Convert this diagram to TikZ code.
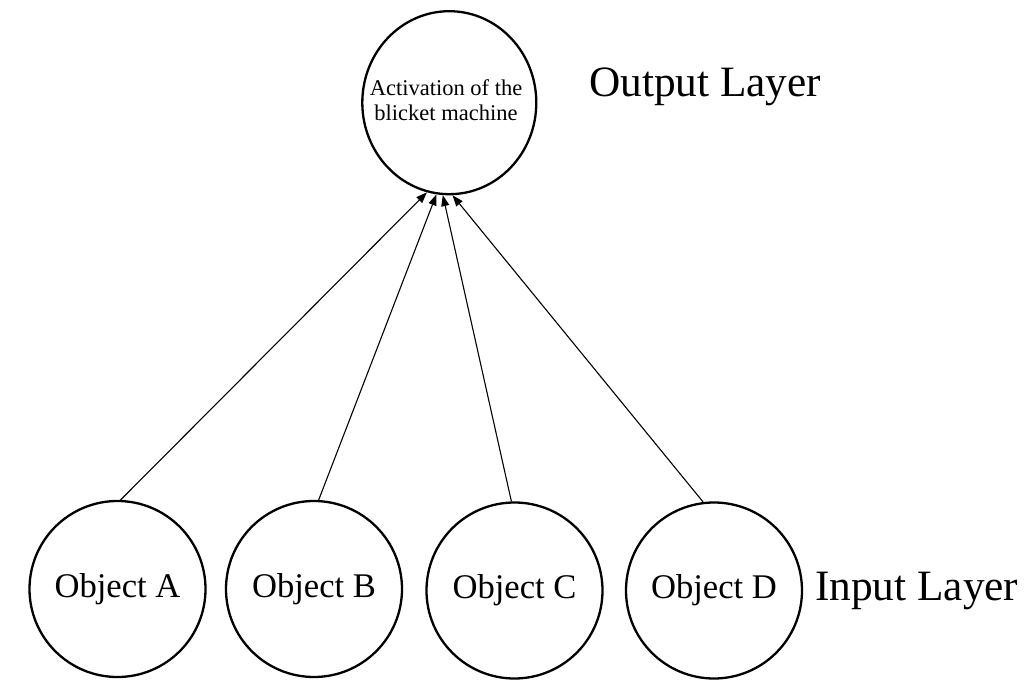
\documentclass[tikz,border=0pt]{standalone}
\usepackage{fontspec}
\setmainfont{Liberation Serif}
\usetikzlibrary{arrows.meta,shapes.geometric}
\tikzset{
  objnode/.style={draw, circle, line width=2.3pt, minimum size=176pt, inner sep=0pt,
                  font=\fontsize{34.6}{40}\selectfont},
  outnode/.style={draw, ellipse, line width=2.3pt, minimum width=174pt, minimum height=183pt,
                  inner sep=0pt},
  outtext/.style={inner sep=0pt, align=center, font=\fontsize{22.5}{25}\selectfont},
  layerlabel/.style={anchor=base west, inner sep=0pt, font=\fontsize{43.3}{48}\selectfont},
  conn/.style={line width=1.1pt, -{Triangle[length=11pt,width=8pt]}}
}
\begin{document}
\begin{tikzpicture}[x=1pt,y=-1pt]
\useasboundingbox (0,0) rectangle (1026,690);
\node[outnode] (out) at (449.3,102.7) {};
\node[outtext] (outtxt) at (446,100) {Activation of the\\blicket machine};
\node[objnode] (A) at (117.5,589) {Object A};
\node[objnode] (B) at (314,589) {Object B};
\node[objnode] (C) at (514.5,590.5) {Object C};
\node[objnode] (D) at (714,590.5) {Object D};
\node[layerlabel] (outl) at (589,96.7) {Output Layer};
\node[layerlabel] (inl) at (815,600) {Input Layer};
\draw[conn] (A.88.4) -- (out.-104);
\draw[conn] (B.87.2) -- (out.-98.9);
\draw[conn] (C.92.9) -- (out.-94.7);
\draw[conn] (D.97) -- (out.-88.5);
\end{tikzpicture}
\end{document}
